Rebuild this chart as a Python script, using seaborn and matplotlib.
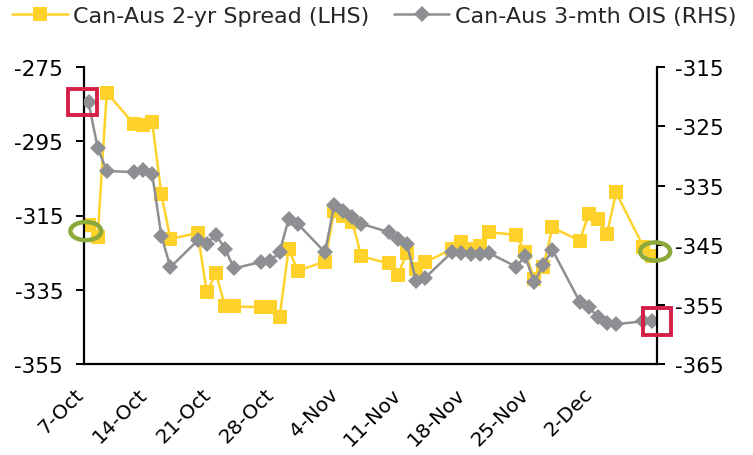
import matplotlib
matplotlib.use("Agg")
import matplotlib.pyplot as plt
import matplotlib.dates as mdates
from matplotlib.patches import Ellipse, Rectangle
from matplotlib.lines import Line2D
import pandas as pd
import seaborn as sns

# Trading days (weekdays) for the two series
dates = [
    "2015-10-07", "2015-10-08", "2015-10-09",
    "2015-10-12", "2015-10-13", "2015-10-14", "2015-10-15", "2015-10-16",
    "2015-10-19", "2015-10-20", "2015-10-21", "2015-10-22", "2015-10-23",
    "2015-10-26", "2015-10-27", "2015-10-28", "2015-10-29", "2015-10-30",
    "2015-11-02", "2015-11-03", "2015-11-04", "2015-11-05", "2015-11-06",
    "2015-11-09", "2015-11-10", "2015-11-11", "2015-11-12", "2015-11-13",
    "2015-11-16", "2015-11-17", "2015-11-18", "2015-11-19", "2015-11-20",
    "2015-11-23", "2015-11-24", "2015-11-25", "2015-11-26", "2015-11-27",
    "2015-11-30", "2015-12-01", "2015-12-02", "2015-12-03", "2015-12-04",
    "2015-12-07", "2015-12-08",
]

# Can-Aus 2-yr spread, bp (left axis)
spread_2yr = [
    -317.6, -320.8, -281.9,
    -290.4, -290.5, -289.9, -309.2, -321.3,
    -319.7, -335.7, -330.5, -339.4, -339.5,
    -339.7, -339.7, -342.4, -324.0, -329.9,
    -327.4, -313.7, -315.1, -316.8, -326.0,
    -327.9, -331.0, -325.1, -329.4, -327.6,
    -324.0, -322.1, -324.0, -323.1, -319.5,
    -320.2, -324.9, -332.1, -328.9, -318.2,
    -321.8, -314.6, -315.9, -320.0, -308.8,
    -323.4, -326.0,
]

# Can-Aus 3-month OIS, bp (right axis)
ois_3m = [
    -320.9, -328.6, -332.5,
    -332.7, -332.3, -333.0, -343.4, -348.7,
    -344.2, -344.8, -343.2, -345.6, -348.9,
    -347.8, -347.6, -346.2, -340.6, -341.4,
    -346.2, -338.3, -339.3, -340.3, -341.4,
    -342.8, -344.0, -344.8, -351.0, -350.5,
    -346.1, -346.3, -346.5, -346.5, -346.3,
    -348.6, -346.9, -351.2, -348.3, -345.8,
    -354.5, -355.4, -357.1, -358.1, -358.3,
    -357.8, -357.8,
]

tick_dates = ["2015-10-07", "2015-10-14", "2015-10-21", "2015-10-28", "2015-11-04",
              "2015-11-11", "2015-11-18", "2015-11-25", "2015-12-02", "2015-12-09"]
tick_labels = ["7-Oct", "14-Oct", "21-Oct", "28-Oct", "4-Nov",
               "11-Nov", "18-Nov", "25-Nov", "2-Dec", ""]
lhs_ticks = [-355, -335, -315, -295, -275]
rhs_ticks = [-365, -355, -345, -335, -325, -315]

label_spread = "Can-Aus 2-yr Spread (LHS)"
label_ois = "Can-Aus 3-mth OIS (RHS)"

YELLOW = "#FFD22B"
GREY = "#8D8F92"
GREEN = "#8BA83B"
RED = "#D61F47"

sns.set_style("white")
plt.rcParams["font.family"] = ["DejaVu Sans"]

# each observation sits in the middle of its day slot, ticks at day starts
df = pd.DataFrame({
    "date": pd.to_datetime(dates) + pd.Timedelta(hours=12),
    "spread": spread_2yr,
    "ois": ois_3m,
})

fig = plt.figure(figsize=(7.53, 4.56), dpi=100)
ax = fig.add_axes([84 / 753, 91 / 456, 573 / 753, 297 / 456])
ax2 = ax.twinx()

sns.lineplot(data=df, x="date", y="spread", ax=ax, color=YELLOW, linewidth=1.8,
             marker="s", markersize=10, markeredgewidth=0, markerfacecolor=YELLOW)
sns.lineplot(data=df, x="date", y="ois", ax=ax2, color=GREY, linewidth=1.8,
             marker="D", markersize=8.5, markeredgewidth=0, markerfacecolor=GREY)

x0 = pd.Timestamp(tick_dates[0])
x1 = pd.Timestamp(tick_dates[-1])
ax.set_xlim(x0, x1)
ax.set_ylim(lhs_ticks[0], lhs_ticks[-1])
ax2.set_ylim(rhs_ticks[0], rhs_ticks[-1])

ax.set_yticks(lhs_ticks)
ax.set_yticklabels([str(v) for v in lhs_ticks])
ax2.set_yticks(rhs_ticks)
ax2.set_yticklabels([str(v) for v in rhs_ticks])

for a in (ax, ax2):
    a.set_xlabel("")
    a.set_ylabel("")
    a.grid(False)
    for s in a.spines.values():
        s.set_visible(False)
    a.tick_params(axis="both", direction="out", length=6, width=1.4,
                  color="black", labelsize=15.5, labelcolor="black", pad=7)

# slanted date labels hang from their baseline end just below each tick
ax.set_xticks(pd.to_datetime(tick_dates))
ax.set_xticklabels(tick_labels, rotation=45, ha="right", va="baseline",
                   rotation_mode="anchor", fontsize=14.5)

ax.spines["left"].set_visible(True)
ax.spines["bottom"].set_visible(True)
ax2.spines["right"].set_visible(True)
for a, side in ((ax, "left"), (ax, "bottom"), (ax2, "right")):
    a.spines[side].set_color("black")
    a.spines[side].set_linewidth(1.6)
ax.tick_params(axis="x", pad=16)
ax.tick_params(axis="y", right=False, pad=9)
ax2.tick_params(axis="y", left=False, right=True)

# highlight markers at the start and end of the period
xn0 = mdates.date2num(x0)
xn1 = mdates.date2num(x1)
hl_kw = dict(fill=False, clip_on=False, zorder=10)
ax2.add_patch(Ellipse((xn0 + 0.2, (spread_2yr[0] + spread_2yr[1]) / 2), 3.4, 4.9,
                      transform=ax.transData, edgecolor=GREEN, linewidth=3.2, **hl_kw))
ax2.add_patch(Ellipse((xn1 - 0.2, (spread_2yr[-2] + spread_2yr[-1]) / 2), 3.3, 4.9,
                      transform=ax.transData, edgecolor=GREEN, linewidth=3.2, **hl_kw))
ax2.add_patch(Rectangle((xn0 - 0.2 - 1.6, ois_3m[0] - 2.2), 3.2, 4.4,
                        edgecolor=RED, linewidth=2.8, **hl_kw))
ax2.add_patch(Rectangle((xn1 - 1.5, ois_3m[-1] - 2.3), 3.0, 4.6,
                        edgecolor=RED, linewidth=2.8, **hl_kw))

handles = [
    Line2D([], [], color=YELLOW, linewidth=1.8, marker="s", markersize=10,
           markeredgewidth=0),
    Line2D([], [], color=GREY, linewidth=1.8, marker="D", markersize=8.5,
           markeredgewidth=0),
]
fig.legend(handles, [label_spread, label_ois], loc="center left",
           bbox_to_anchor=(12 / 753, 1 - 17 / 456), ncol=2, frameon=False,
           fontsize=16, handlelength=2.5, handletextpad=0.25, columnspacing=1.1,
           borderpad=0, borderaxespad=0)

fig.savefig("out.png", dpi=100)
